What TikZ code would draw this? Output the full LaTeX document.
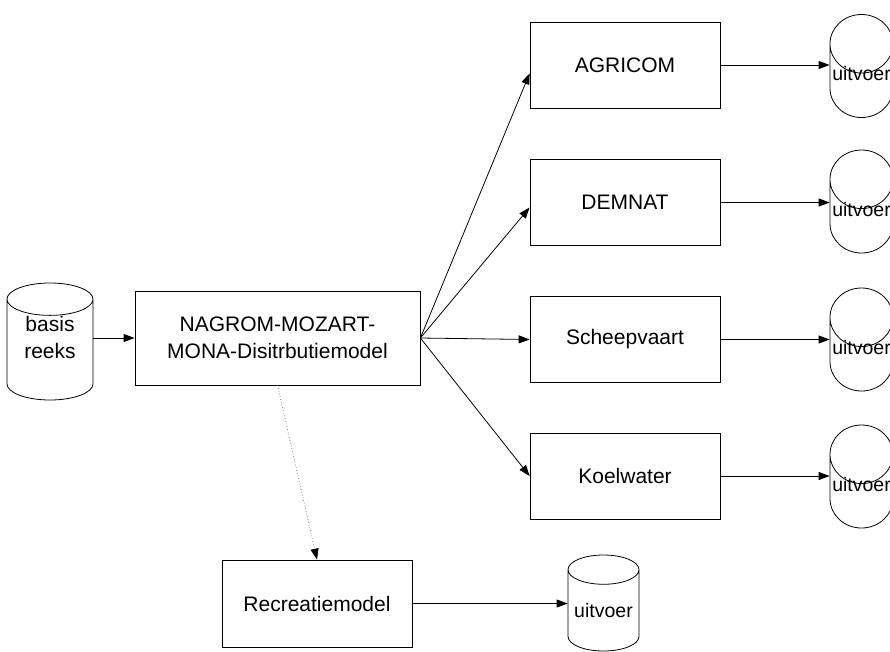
\documentclass[tikz,border=0pt]{standalone}
\usepackage{fontspec}
\setmainfont{Liberation Sans}
\usetikzlibrary{shapes.geometric,arrows.meta}

\begin{document}
\begin{tikzpicture}[x=1pt, y=-1pt, every node/.style={font=\fontsize{21}{27}\selectfont}]

		% Fix the page to the size of the reference
		\clip (0,0) rectangle (890,651);

		% Define styles for the model boxes, the data stores and the links
		\tikzset{
			model box/.style={draw, line width=0.8pt, minimum width=190pt, minimum height=86pt, align=center, inner sep=0pt},
			store/.style={draw, line width=0.8pt, cylinder, shape border rotate=90, anchor=shape center, aspect=1.0, minimum width=63pt, minimum height=103pt, inner sep=0pt, font=\fontsize{19.5}{24}\selectfont},
			link/.style={line width=0.8pt, -{Triangle[length=11pt, width=8pt]}},
			soft link/.style={line width=0.8pt, draw=gray, dotted, -{Triangle[length=11pt, width=8pt, black]}}
		};

		% Input series and the distribution model
		\node[store, aspect=0.63, minimum width=86pt, minimum height=117pt, align=center, text depth=24pt, font=\fontsize{21}{27}\selectfont] (basis) at (50,341.5) {basis\\reeks};
		\node[model box, minimum width=285pt, minimum height=94pt] (nagrom) at (277.5,338) {NAGROM-MOZART-\\MONA-Disitrbutiemodel};
		\draw[link] (basis.east |- nagrom.west) -- (nagrom.west);

		% Impact models fed by the distribution model
		\node[model box] (agricom) at (625,65) {AGRICOM};
		\node[model box] (demnat) at (625,202.5) {DEMNAT};
		\node[model box] (scheepvaart) at (625,339.5) {Scheepvaart};
		\node[model box] (koelwater) at (625,476) {Koelwater};
		\node[model box, minimum height=87pt] (recreatie) at (317,603.5) {Recreatiemodel};

		% Output stores (text lifted a little inside the body)
		\node[store] (agricom-uit) at (861.5,66) {\raisebox{7pt}[\height][\depth]{uitvoer}};
		\node[store] (demnat-uit) at (861.5,201.5) {\raisebox{7pt}[\height][\depth]{uitvoer}};
		\node[store] (scheepvaart-uit) at (861.5,339.5) {\raisebox{7pt}[\height][\depth]{uitvoer}};
		\node[store] (koelwater-uit) at (861.5,476.5) {\raisebox{7pt}[\height][\depth]{uitvoer}};
		\node[store, aspect=0.5, minimum width=71pt, minimum height=96pt] (recreatie-uit) at (603.5,603) {uitvoer};

		% Links from the distribution model
		\draw[link] (nagrom.east) -- (agricom.185);
		\draw[link] (nagrom.east) -- (demnat.183);
		\draw[link] (nagrom.east) -- (scheepvaart.west);
		\draw[link] (nagrom.east) -- (koelwater.west);
		\draw[soft link] (nagrom.south) -- (recreatie.north);

		% Links to the outputs
		\foreach \m in {agricom, demnat, scheepvaart, koelwater, recreatie}
			\draw[link] (\m.east) -- (\m.east -| \m-uit.west);
	\end{tikzpicture}
\end{document}
